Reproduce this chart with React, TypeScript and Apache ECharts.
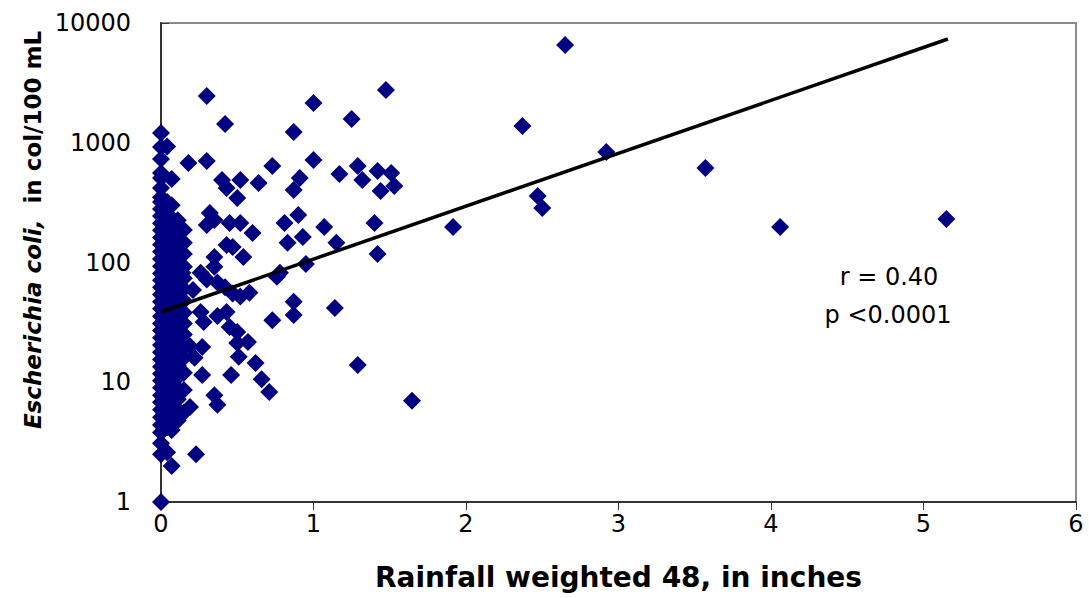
import React, { useEffect, useRef } from "react";
import * as echarts from "echarts";

// Samples with no (or nearly no) rainfall: [rainfall, E. coli]
const zeroRainX = [0];
const zeroRainY = [1, 2.5, 3.1, 3.8, 4.4, 5.1, 5.9, 6.8, 7.8, 9, 10.3, 11.8, 13.5, 15.5, 17.8, 20.5, 23.5, 27, 31, 35.5, 41, 47, 54, 62, 71, 81, 93, 107, 123, 141, 162, 186, 213, 245, 280, 320, 350, 419, 508, 560, 732, 922, 1205];

const col04Y = [2.6, 4.2, 5.3, 6.6, 8.2, 10, 12.5, 15.8, 19.5, 24, 30, 37, 46, 57, 70, 87, 108, 134, 165, 205, 255, 320, 930];
const col07Y = [2.0, 4.0, 5.0, 6.2, 7.5, 9.5, 11.5, 14.5, 18, 22, 27.5, 34, 42, 52, 64, 79, 98, 120, 150, 188, 230, 300, 498];
const col11Y = [4.8, 5.9, 7.2, 8.8, 11, 13.8, 17, 21, 26, 32, 40, 49, 61, 76, 94, 116, 145, 180, 225];
const col15Y = [5.6, 8.6, 12, 16, 20.5, 25, 31, 38, 48, 60, 74, 92, 118, 146, 187];

// Scattered samples with light rain
const lightX = [0.18, 0.30, 0.30, 0.42, 0.73, 0.40, 0.43, 0.52, 0.64, 0.50, 0.32, 0.35, 0.30, 0.45, 0.52, 0.60, 0.43, 0.47, 0.54, 0.35, 0.35, 0.26, 0.76, 0.26, 0.28, 0.37, 0.43, 0.45, 0.50, 0.50, 0.57, 0.51, 0.62, 0.66, 0.71, 0.46, 0.35, 0.37, 0.27, 0.27, 0.22, 0.73, 0.23, 0.19, 0.21, 0.19, 0.37, 0.47, 0.52, 0.30, 0.42, 0.14, 0.58];
const lightY = [677, 704, 2460, 1435, 640, 489, 419, 489, 461, 346, 259, 226, 206, 214, 214, 176, 140, 135, 111, 111, 92, 82, 76, 38.6, 31.9, 35.7, 38.6, 28.9, 26.3, 21.3, 21.7, 16.3, 14.5, 10.6, 8.3, 11.5, 7.8, 6.5, 11.5, 19.7, 16, 33, 2.5, 6.2, 59, 20, 68, 55, 52, 72, 62, 82, 56];

// Samples with moderate rain
const midX = [0.87, 1.0, 1.25, 1.475, 1.0, 1.29, 1.17, 1.42, 1.51, 1.32, 0.91, 0.87, 1.44, 1.53, 0.90, 0.81, 1.07, 1.40, 0.83, 0.93, 1.15, 1.42, 0.95, 0.78, 0.87, 0.87, 1.14, 1.29, 1.646];
const midY = [1230, 2148, 1580, 2760, 718, 640, 548, 581, 559, 489, 508, 403, 395, 435, 249, 214, 198, 214, 146, 163, 146, 118, 97, 82, 47, 36.5, 41.7, 13.9, 7.0];

// Samples with heavy rain
const heavyX = [1.915, 2.37, 2.47, 2.5, 2.65, 2.92, 3.57, 4.06, 5.15];
const heavyY = [198, 1380, 359, 285, 6550, 837, 615, 198, 231];

// Exponential trend line end points
const trendX = [0, 5.16];
const trendY = [38.6, 7350];

const xTicks = [0, 1, 2, 3, 4, 5, 6];
const yTicks = [1, 10, 100, 1000, 10000];

function pairs(xs: number[], ys: number[]) {
  return ys.map((y, i) => [xs.length === 1 ? xs[0] : xs[i], y]);
}

export default function App() {
  const ref = useRef<HTMLDivElement>(null);
  useEffect(() => {
    if (!ref.current) return;
    const chart = echarts.init(ref.current, null, { renderer: "svg" });
    const pts = [
      ...pairs(zeroRainX, zeroRainY),
      ...pairs([0.04], col04Y),
      ...pairs([0.07], col07Y),
      ...pairs([0.11], col11Y),
      ...pairs([0.15], col15Y),
      ...pairs(lightX, lightY),
      ...pairs(midX, midY),
      ...pairs(heavyX, heavyY),
    ];
    const font = "DejaVu Sans";
    chart.setOption({
      animation: false,
      backgroundColor: "#ffffff",
      grid: {
        left: 161,
        right: 13,
        top: 23,
        bottom: 96,
        show: true,
        borderColor: "#8a8a8a",
        borderWidth: 2,
        backgroundColor: "transparent",
      },
      xAxis: {
        type: "value",
        min: xTicks[0],
        max: xTicks[xTicks.length - 1],
        interval: 1,
        name: "Rainfall weighted 48, in inches",
        nameLocation: "middle",
        nameGap: 61,
        nameTextStyle: { fontFamily: font, fontWeight: "bold", fontSize: 28, color: "#000" },
        axisLine: { lineStyle: { color: "#333", width: 2 } },
        axisTick: { show: true, inside: false, length: 8, lineStyle: { color: "#333", width: 1 } },
        axisLabel: { fontFamily: font, fontSize: 24, color: "#000", margin: 10 },
        splitLine: { show: false },
      },
      yAxis: {
        type: "log",
        logBase: 10,
        min: yTicks[0],
        max: yTicks[yTicks.length - 1],
        axisLine: { show: true, lineStyle: { color: "#333", width: 2 } },
        axisTick: { show: true, inside: true, length: 8, lineStyle: { color: "#333", width: 1 } },
        axisLabel: {
          fontFamily: font,
          fontSize: 24,
          color: "#000",
          margin: 30,
          formatter: (v: number) => String(Math.round(v)),
        },
        splitLine: { show: false },
        minorTick: { show: false },
      },
      graphic: [
        {
          type: "text",
          x: 33,
          y: 230,
          rotation: Math.PI / 2,
          style: {
            text: "{i|Escherichia coli,}  in col/100 mL",
            fontFamily: font,
            fontWeight: "bold",
            fontSize: 23,
            fill: "#000",
            align: "center",
            verticalAlign: "middle",
            rich: {
              i: { fontFamily: font, fontWeight: "bold", fontStyle: "italic", fontSize: 23, fill: "#000" },
            },
          },
        },
        {
          type: "text",
          x: 889,
          y: 277,
          style: { text: "r = 0.40", fontFamily: font, fontSize: 24, fill: "#000", align: "center", verticalAlign: "middle" },
        },
        {
          type: "text",
          x: 888,
          y: 315,
          style: { text: "p <0.0001", fontFamily: font, fontSize: 24, fill: "#000", align: "center", verticalAlign: "middle" },
        },
      ],
      series: [
        {
          type: "scatter",
          data: pts,
          symbol: "diamond",
          symbolSize: 18,
          itemStyle: { color: "#000080", opacity: 1 },
          silent: true,
        },
        {
          type: "line",
          data: pairs(trendX, trendY),
          showSymbol: false,
          symbol: "none",
          lineStyle: { color: "#000", width: 3.5 },
          silent: true,
        },
      ],
    });
    return () => chart.dispose();
  }, []);
  return (
    <div
      ref={ref}
      style={{ position: "fixed", left: 0, top: 0, width: 1089, height: 598, background: "#fff" }}
    />
  );
}
